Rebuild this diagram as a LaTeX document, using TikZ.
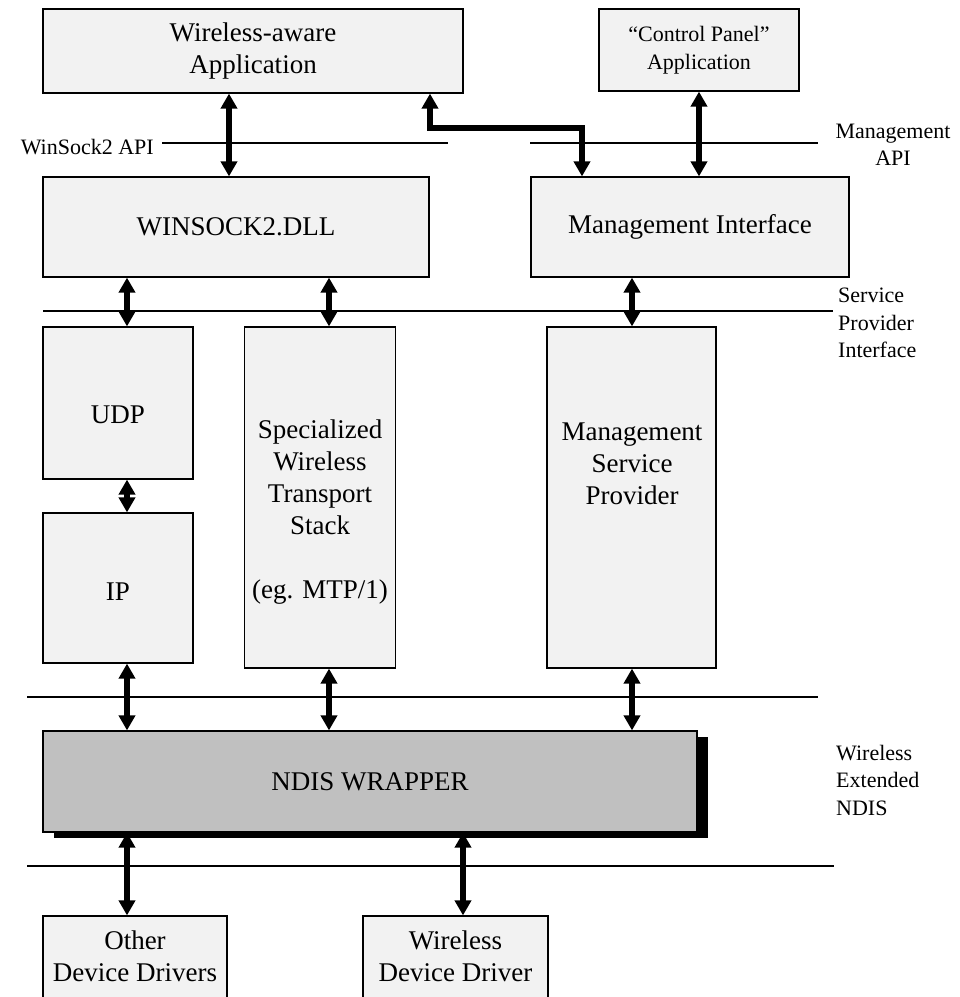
\documentclass[tikz,border=0pt]{standalone}
\usepackage{fontspec}
\setmainfont{Liberation Serif}
\usetikzlibrary{arrows.meta,shadows}
\definecolor{boxgray}{HTML}{F2F2F2}
\definecolor{ndisgray}{HTML}{C0C0C0}

\begin{document}
\begin{tikzpicture}[x=1pt,y=-1pt,line join=miter,
  >={Triangle[length=15pt,width=16pt]},
  box/.style={draw,line width=1.2pt,fill=boxgray,inner sep=0pt,align=center,
    font=\fontsize{27}{32}\selectfont},
  boxtext/.style={inner sep=0pt,align=center,font=\fontsize{27}{32}\selectfont},
  side/.style={inner sep=0pt,font=\fontsize{22}{27.5}\selectfont},
  layer/.style={line width=1.3pt},
  link/.style={<->,line width=5.5pt}]
\useasboundingbox (0,0) rectangle (960,997);
\clip (0,0) rectangle (960,997);

%kerrosviivat
\draw[layer] (162,143) -- (448,143);
\draw[layer] (530,143) -- (818,143);
\draw[layer] (43,311) -- (833,311);
\draw[layer] (27,697) -- (818,697);
\draw[layer] (27,866) -- (834,866);

%kerrosten nimet
\node[side,anchor=base east] (apilbl) at (154,154) {WinSock2 API};
\node[side,align=center] (mapilbl) at (893,145) {Management\\API};
\node[side,align=left,anchor=north west] (spilbl) at (838,288) {Service\\Provider\\Interface};
\node[side,align=left,anchor=north west] (ndislbl) at (836,745) {Wireless\\Extended\\NDIS};

%laatikot
\node[box,minimum width=420pt,minimum height=84pt] (app) at (253,51) {Wireless-aware\\Application};
\node[box,minimum width=200pt,minimum height=82pt,font=\fontsize{22}{28}\selectfont] (cpl) at (699,50) {``Control Panel''\\Application};
\node[box,minimum width=386pt,minimum height=100pt] (ws) at (236,227) {WINSOCK2.DLL};
\node[box,minimum width=318pt,minimum height=100pt] (mi) at (690,227) {Management Interface};
\node[box,minimum width=150pt,minimum height=152pt] (udp) at (118,403) {};
\node[boxtext] (udptxt) at (118,415) {UDP};
\node[box,minimum width=150pt,minimum height=150pt] (ip) at (118,588) {};
\node[boxtext] (iptxt) at (118,592) {IP};
\node[box,minimum width=151pt,minimum height=341pt] (sws) at (320,497.5) {};
\node[boxtext] (swstxt) at (320,512) {Specialized\\Wireless\\Transport\\Stack\\[32pt](eg. MTP/1)};
\node[box,minimum width=169pt,minimum height=341pt] (msp) at (631.5,497.5) {};
\node[boxtext] (msptxt) at (632,464) {Management\\Service\\Provider};
\node[box,fill=ndisgray,minimum width=654pt,minimum height=101pt,
  drop shadow={shadow xshift=10.5pt,shadow yshift=-6pt,fill=black,opacity=1}] (ndis) at (370,781.5) {NDIS WRAPPER};
\node[box,minimum width=184pt,minimum height=128pt,text depth=48pt] (odd) at (135,980) {Other\\Device Drivers};
\node[box,minimum width=185pt,minimum height=128pt,text depth=48pt] (wdd) at (455.5,980) {Wireless\\Device Driver};

%nuolet
\foreach \n/\x in {colip/127,colapp/229,colsws/329,coldd/463,colmsp/632,colcpl/699}
  \coordinate (\n) at (\x,0);
\coordinate (kinkl) at (430,128);
\coordinate (kinkr) at (582,128);
\draw[link] (app.south -| colapp) -- (ws.north -| colapp);
\draw[link] (cpl.south -| colcpl) -- (mi.north -| colcpl);
\draw[link] (app.south -| kinkl) -- (kinkl) -- (kinkr) -- (mi.north -| kinkr);
\draw[link] (ws.south -| colip) -- (udp.north -| colip);
\draw[link] (ws.south -| colsws) -- (sws.north -| colsws);
\draw[link] (mi.south -| colmsp) -- (msp.north -| colmsp);
\draw[link] (udp.south -| colip) -- (ip.north -| colip);
\draw[link] (ip.south -| colip) -- (ndis.north -| colip);
\draw[link] (sws.south -| colsws) -- (ndis.north -| colsws);
\draw[link] (msp.south -| colmsp) -- (ndis.north -| colmsp);
\draw[link] (ndis.south -| colip) -- (odd.north -| colip);
\draw[link] (ndis.south -| coldd) -- (wdd.north -| coldd);
\end{tikzpicture}
\end{document}
